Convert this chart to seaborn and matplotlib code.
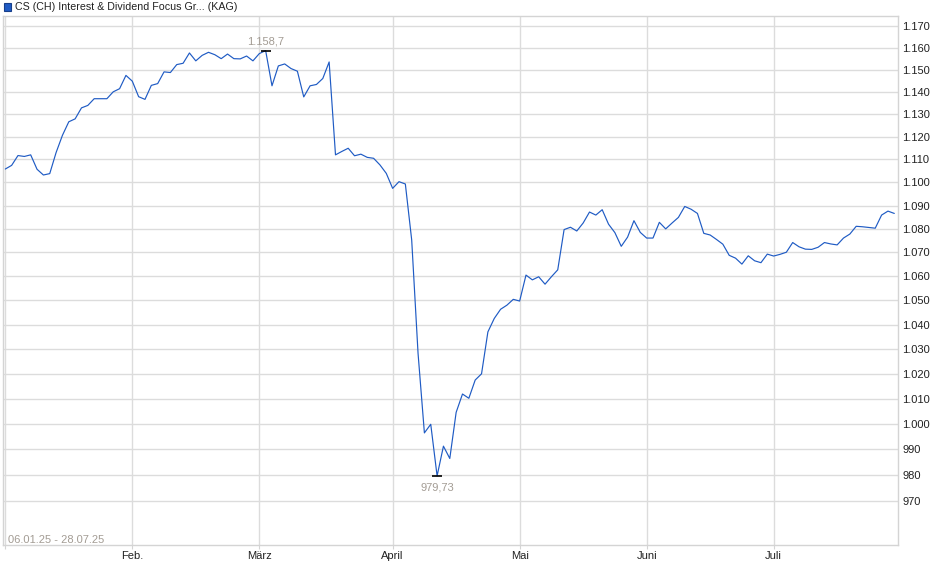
import numpy as np
import pandas as pd
import matplotlib
matplotlib.use("Agg")
import matplotlib.pyplot as plt
import seaborn as sns
from matplotlib.ticker import FixedLocator, FuncFormatter, NullLocator
from matplotlib.patches import Rectangle

# ---------------- data ----------------
title = "CS (CH) Interest & Dividend Focus Gr... (KAG)"
range_label = "06.01.25 - 28.07.25"
start_date = "2025-01-06"
end_date = "2025-07-28"
holidays = ["2025-04-18", "2025-04-21", "2025-05-01", "2025-05-29", "2025-06-09"]
month_names = ["Feb.", "März", "April", "Mai", "Juni", "Juli"]
month_numbers = [2, 3, 4, 5, 6, 7]

prices = [
    1105.8, 1107.4, 1111.7, 1111.3, 1112.0, 1105.7, 1103.2, 1103.8, 1113.0, 1120.6,
    1126.6, 1127.9, 1132.8, 1133.9, 1136.9, 1136.9, 1136.9, 1140.0, 1141.4, 1147.4,
    1144.8, 1137.8, 1136.6, 1142.9, 1143.7, 1149.0, 1148.7, 1152.3, 1152.9, 1157.6,
    1154.0, 1156.5, 1157.9, 1156.8, 1155.0, 1157.1, 1155.0, 1154.9, 1156.2, 1154.0,
    1157.3, 1158.7, 1142.7, 1151.7, 1152.6, 1150.5, 1149.3, 1137.7, 1142.7, 1143.3,
    1146.0, 1153.5, 1112.0, 1113.5, 1114.9, 1111.6, 1112.3, 1110.9, 1110.5, 1107.6,
    1103.9, 1097.4, 1100.3, 1099.3, 1075.3, 1028.3, 996.5, 999.9, 979.73, 991.3,
    986.5, 1004.6, 1011.9, 1010.2, 1017.5, 1020.0, 1037.0, 1042.5, 1046.3, 1048.0,
    1050.4, 1049.7, 1060.5, 1058.5, 1059.8, 1056.7, 1059.8, 1062.7, 1079.7, 1080.7,
    1079.1, 1082.5, 1087.2, 1085.9, 1088.2, 1082.0, 1078.4, 1072.6, 1076.5, 1083.5,
    1078.5, 1076.1, 1076.1, 1082.8, 1080.0, 1082.5, 1084.9, 1089.6, 1088.4, 1086.6,
    1078.1, 1077.4, 1075.5, 1073.5, 1068.8, 1067.6, 1065.1, 1068.6, 1066.5, 1065.7,
    1069.3, 1068.5, 1069.2, 1070.1, 1074.2, 1072.4, 1071.4, 1071.3, 1072.2, 1074.2,
    1073.6, 1073.2, 1076.1, 1077.8, 1081.1, 1080.9, 1080.6, 1080.3, 1085.9, 1087.6,
    1086.6,
]
y_ticks = [970, 980, 990, 1000, 1010, 1020, 1030, 1040, 1050, 1060,
           1070, 1080, 1090, 1100, 1110, 1120, 1130, 1140, 1150, 1160, 1170]
max_label = "1.158,7"
min_label = "979,73"

# trading-day calendar
days = pd.bdate_range(start_date, end_date)
days = days[~days.isin(pd.to_datetime(holidays))]
df = pd.DataFrame({"date": days, "pos": np.arange(len(days)), "price": prices})

# ---------------- style ----------------
sns.set_theme(style="white")
plt.rcParams["font.family"] = ["Liberation Sans", "DejaVu Sans"]

LINE = "#1f5bc4"
GRID = "#dcdcdc"
SPINE = "#d4d4d4"
TXT = "#222222"
MUTED = "#a39c94"

fig = plt.figure(figsize=(9.40, 5.79), dpi=100)
ax = fig.add_axes([3 / 940, 1 - 545 / 579, 895.3 / 940, 529 / 579])

sns.lineplot(data=df, x="pos", y="price", ax=ax, color=LINE, linewidth=0.85)

ax.set_yscale("log")
ax.set_ylim(953.4, 1174.6)
ax.set_xlim(-0.36, len(days) - 1 + 0.63)

ax.yaxis.set_major_locator(FixedLocator(y_ticks))
ax.yaxis.set_minor_locator(NullLocator())
ax.yaxis.set_major_formatter(FuncFormatter(lambda v, p: f"{v:,.0f}".replace(",", ".")))
ax.yaxis.tick_right()
ax.tick_params(axis="y", length=0, pad=3, labelsize=8, labelcolor=TXT)

month_pos = [int(df.loc[df["date"].dt.month == m, "pos"].iloc[0]) for m in month_numbers]
ax.set_xticks([0] + month_pos)
ax.set_xticklabels([""] + month_names)
ax.tick_params(axis="x", length=3, width=0.8, color=SPINE, pad=1.5,
               labelsize=8, labelcolor=TXT, bottom=True)

ax.grid(True, color=GRID, linewidth=1.0)
ax.set_axisbelow(True)
for s in ax.spines.values():
    s.set_visible(True)
    s.set_color(SPINE)
    s.set_linewidth(1.0)
ax.set_xlabel("")
ax.set_ylabel("")

# extremes
i_max = int(np.argmax(prices))
i_min = int(np.argmin(prices))
ax.plot([i_max], [prices[i_max]], marker="_", ms=6.5, mew=1.2, color="black")
ax.plot([i_min], [prices[i_min]], marker="_", ms=6.5, mew=1.2, color="black")
ax.annotate(max_label, (i_max, prices[i_max]), xytext=(0, 4), textcoords="offset points",
            ha="center", va="baseline", fontsize=8, color=MUTED)
ax.annotate(min_label, (i_min, prices[i_min]), xytext=(0, -10.5), textcoords="offset points",
            ha="center", va="baseline", fontsize=8, color=MUTED)

# date range label
fig.text(8 / 940, 1 - 543 / 579, range_label, ha="left", va="baseline",
         fontsize=8, color=MUTED)

# legend-like title
fig.add_artist(Rectangle((4 / 940, 1 - 10.5 / 579), 7 / 940, 7 / 579,
                         transform=fig.transFigure, facecolor=LINE,
                         edgecolor="#173f8a", linewidth=0.8))
fig.text(15 / 940, 1 - 7 / 579, title, ha="left", va="center", fontsize=7.7, color=TXT)

fig.savefig("out.png", dpi=100)
